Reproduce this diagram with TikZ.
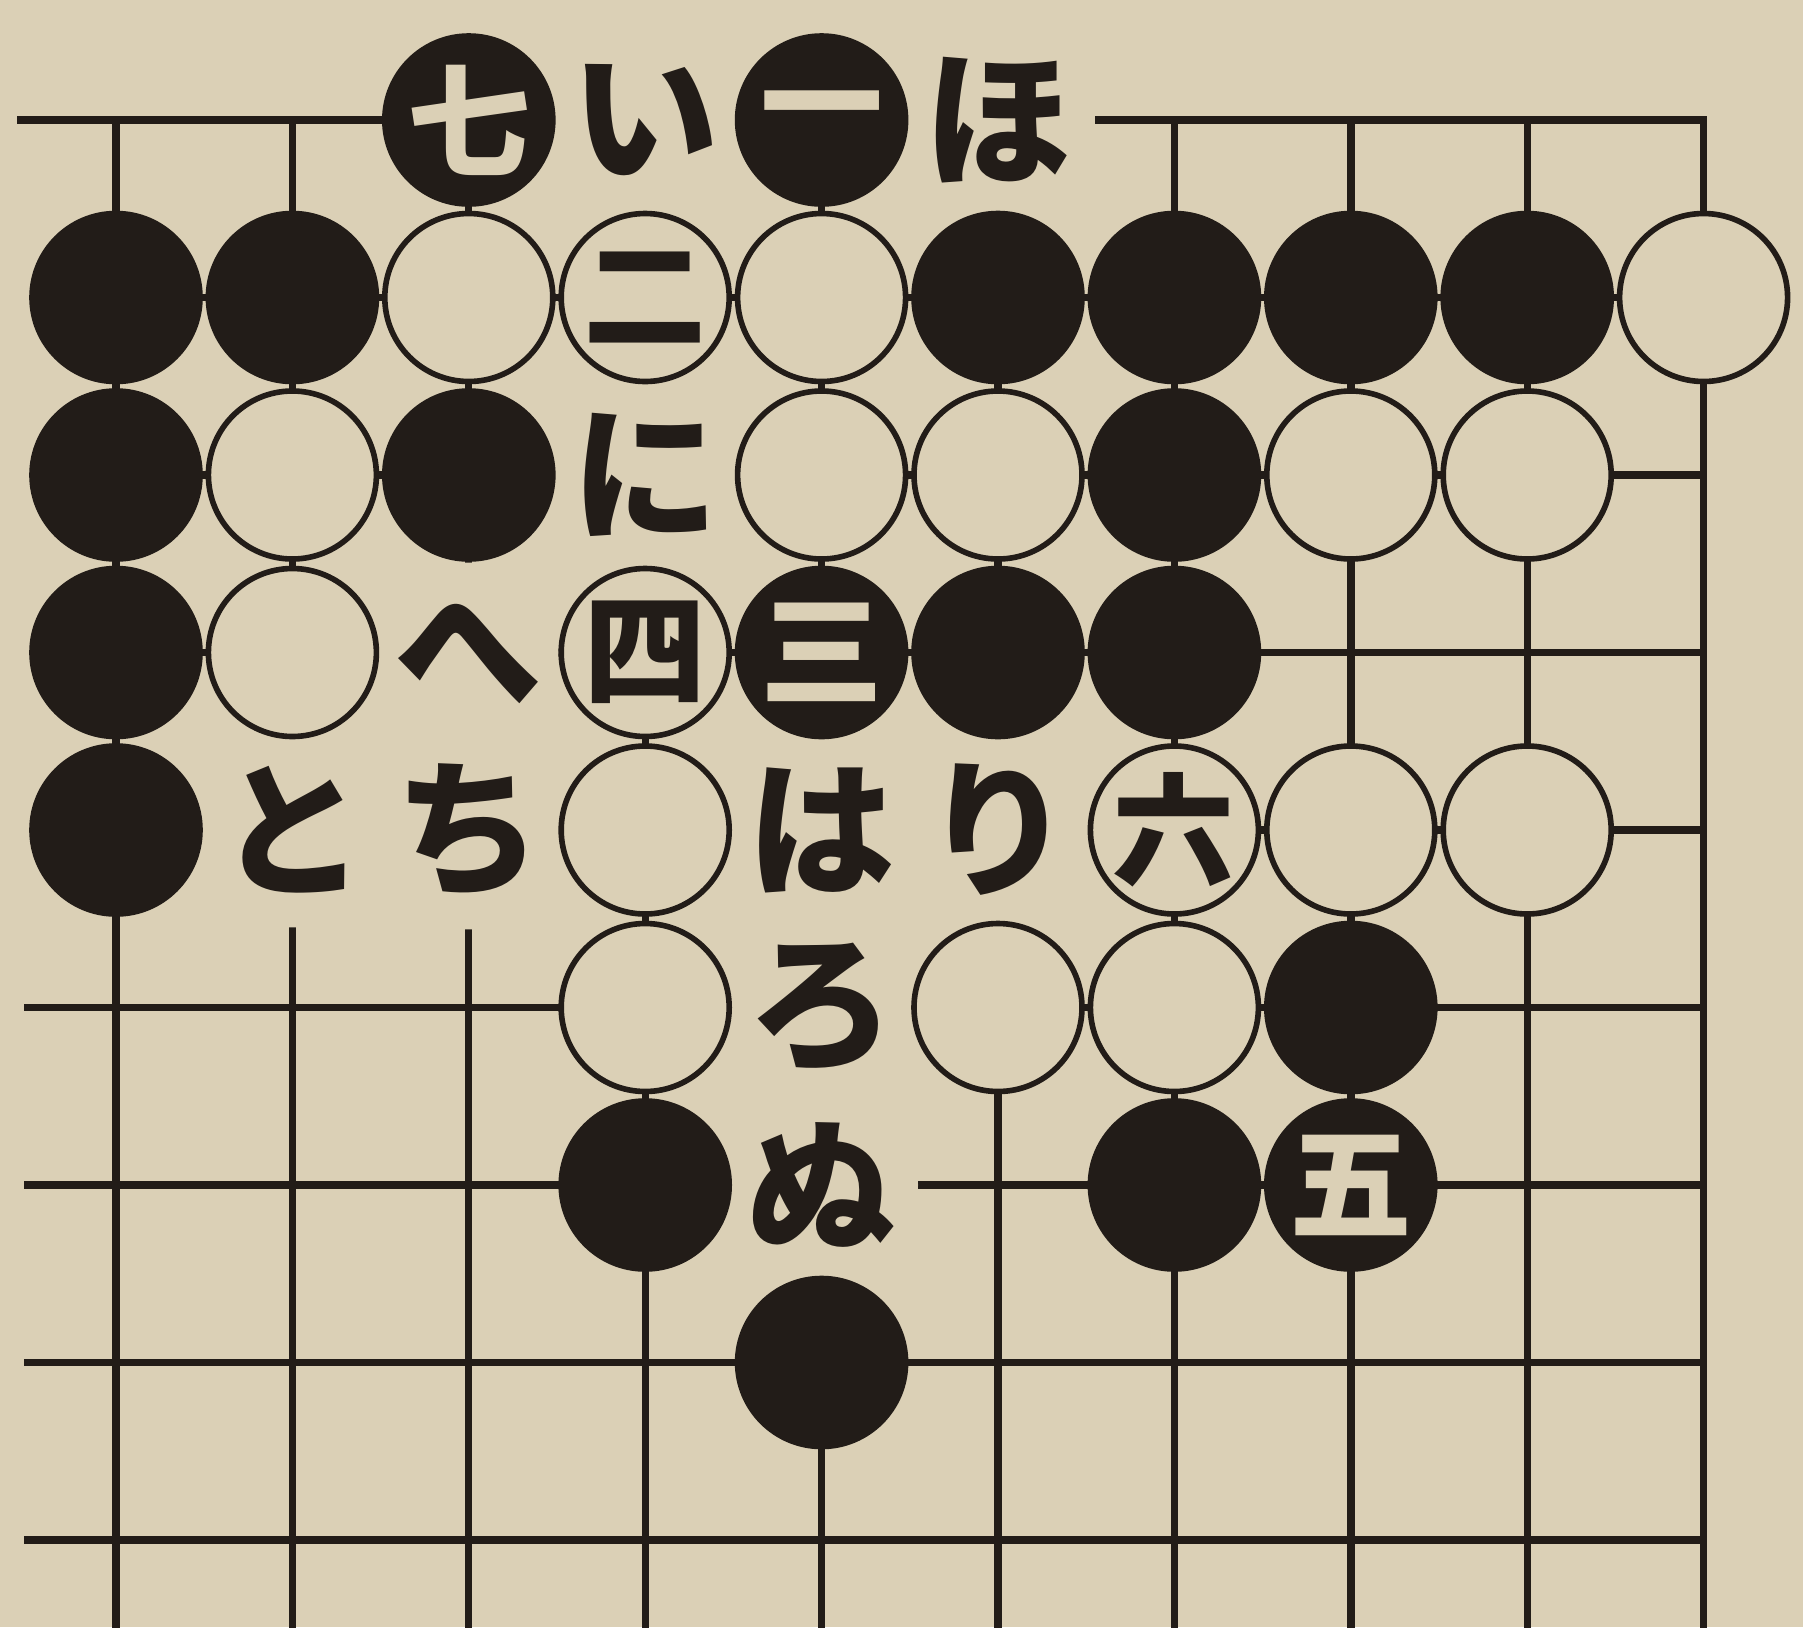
\documentclass[tikz,border=0pt]{standalone}
\usepackage{fontspec}
\newfontfamily\jp{Noto Sans CJK JP}
\usepackage{xcolor}
\usepackage{tikz}
\usetikzlibrary{positioning}

\definecolor{paper}{RGB}{219,208,182}
\definecolor{ink}{RGB}{34,28,24}

\begin{document}
\begin{tikzpicture}[
  x=1.764cm, y=-1.775cm,
  boardline/.style={draw=ink, line width=2.1pt, line cap=rect},
  stone/.style={circle, minimum size=1.68cm, inner sep=0pt, line width=1.6pt, draw=ink},
  blk/.style={stone, fill=ink, text=paper, font=\jp\bfseries\fontsize{35}{35}\selectfont},
  wht/.style={stone, fill=paper, text=ink, font=\jp\bfseries\fontsize{35}{35}\selectfont},
  kana/.style={circle, minimum size=1.68cm, inner sep=0pt, fill=paper, text=ink, font=\jp\bfseries\fontsize{42}{42}\selectfont},
]
\fill[paper] (-1.16cm,1.20cm) rectangle (16.87cm,-15.07cm);
\useasboundingbox (-1.16cm,1.20cm) rectangle (16.87cm,-15.07cm);

% board lines, top right corner
\foreach \r/\s in {0/-0.54,1/0,2/0,3/0,4/0,5/-0.5,6/-0.5,7/-0.5,8/-0.5}
  \draw[boardline] (\s,\r) -- (9,\r);
\foreach \c in {0,...,9}
  \draw[boardline] (\c,0) -- (\c,8.6);

% letters first, the stones go over them
\foreach \c/\r/\t in {3/0/い,5/0/ほ,3/2/に,2/3/へ,1/4/と,2/4/ち,4/4/は,5/4/り,4/5/ろ,4/6/ぬ}
  \node[kana] (k\c\r) at (\c,\r) {\t};

\foreach \c/\r/\t in {2/0/七,4/0/一,0/1/,1/1/,5/1/,6/1/,7/1/,8/1/,0/2/,2/2/,6/2/,0/3/,4/3/三,5/3/,6/3/,0/4/,7/5/,3/6/,6/6/,7/6/五,4/7/}
  \node[blk] (b\c\r) at (\c,\r) {\t};

\foreach \c/\r/\t in {2/1/,3/1/二,4/1/,9/1/,1/2/,4/2/,5/2/,7/2/,8/2/,1/3/,3/3/四,3/4/,6/4/六,7/4/,8/4/,3/5/,5/5/,6/5/}
  \node[wht] (w\c\r) at (\c,\r) {\t};
\end{tikzpicture}
\end{document}
